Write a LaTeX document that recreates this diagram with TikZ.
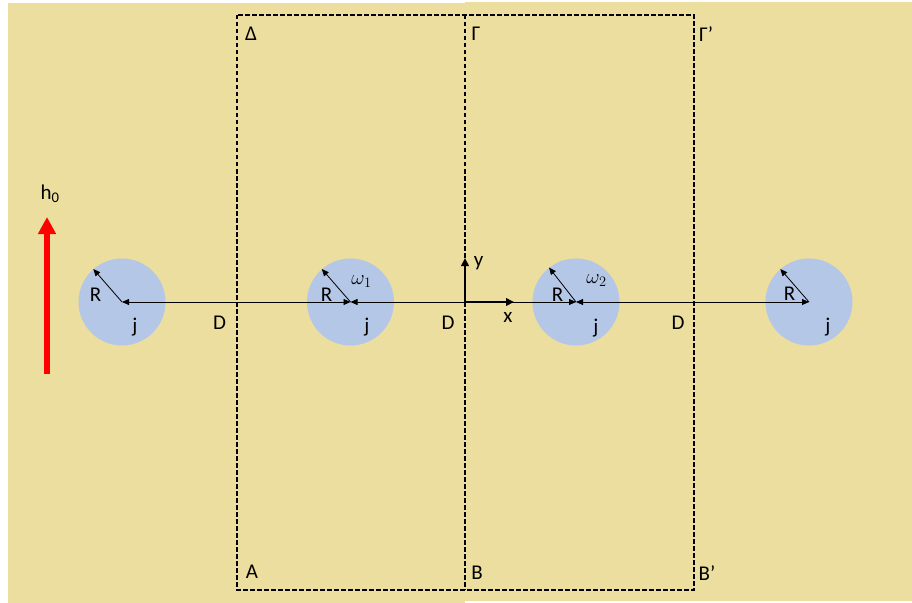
\documentclass[tikz,border=0pt]{standalone}
\usepackage{fontspec}
\setmainfont{Carlito}
\usetikzlibrary{arrows.meta}
\definecolor{bgc}{RGB}{236,222,158}
\definecolor{discc}{RGB}{180,199,231}
\begin{document}
\begin{tikzpicture}[x=1bp,y=-1bp,
  lbl/.style={font=\fontsize{21bp}{24bp}\selectfont, inner sep=0pt},
  mlbl/.style={font=\fontsize{22bp}{25bp}\selectfont, inner sep=0pt},
  disc/.style={circle, fill=discc, minimum size=87bp, inner sep=0pt},
  tip/.tip={Triangle[length=7bp,width=6bp]},
  dist/.style={tip-tip, line width=0.8bp},
  rad/.style={-tip, line width=0.8bp},
  boxline/.style={dash pattern=on 4.5bp off 2.5bp, line width=1.2bp},
  axis/.style={{Triangle[length=8bp,width=7.5bp]}-{Triangle[length=8bp,width=7.5bp]}, line width=2.8bp, line join=miter},
  field/.style={red, line width=5.5bp, -{Triangle[length=17bp,width=17bp]}}]
\useasboundingbox (0,0) rectangle (912,603);
\fill[white] (0,0) rectangle (912,603);
\fill[bgc] (8,3) rectangle (465,603);
\fill[bgc] (465,2) rectangle (912,601);
% dashed cells
\coordinate (TL) at (237,15);
\coordinate (BR) at (694,590);
\coordinate (TM) at (465,15);
\coordinate (BM) at (465,590);
\draw[boxline] (TL) rectangle (BR);
\draw[boxline] (TM) -- (BM);
% discs
\node[disc] (c1) at (122,302) {};
\node[disc] (c2) at (350.5,302) {};
\node[disc] (c3) at (576,302) {};
\node[disc] (c4) at (809,302) {};
% distances
\draw[dist] (c1.center) -- (c2.center);
\draw[dist] (c2.center) -- (c3.center);
\draw[dist] (c3.center) -- (c4.center);
% radii
\draw[rad] (c1.center) -- (c1.131);
\draw[rad] (c2.center) -- (c2.131);
\draw[rad] (c3.center) -- (c3.128);
\draw[rad] (c4.center) -- (c4.131);
% axes
\coordinate (O) at (465,302);
\coordinate (Y) at (465,258);
\coordinate (X) at (514,302);
\draw[axis] (Y) -- (O) -- (X);
% field arrow
\coordinate (H1) at (47,374);
\coordinate (H2) at (47,217);
\draw[field] (H1) -- (H2);
% labels
\node[lbl] (lh) at (50,194) {h\textsubscript{0}};
\node[lbl] (lDelta) at (251,34) {Δ};
\node[lbl] (lGamma) at (476,34) {Γ};
\node[lbl] (lGammap) at (706,34) {Γ’};
\node[lbl] (lA) at (252,572) {A};
\node[lbl] (lB) at (477,573) {B};
\node[lbl] (lBp) at (707,573) {B’};
\node[lbl] (lD1) at (219.5,322.5) {D};
\node[lbl] (lD2) at (448,322.5) {D};
\node[lbl] (lD3) at (678,322.5) {D};
\node[lbl] (lR1) at (95.5,295) {R};
\node[lbl] (lR2) at (326.5,295) {R};
\node[lbl] (lR3) at (557.5,295) {R};
\node[lbl] (lR4) at (789.5,294) {R};
\node[lbl] (lj1) at (135,327.5) {j};
\node[lbl] (lj2) at (367,327.5) {j};
\node[lbl] (lj3) at (596,328) {j};
\node[lbl] (lj4) at (828,327) {j};
\node[mlbl] (lw1) at (361.5,281.5) {$\omega_1$};
\node[mlbl] (lw2) at (596.5,281) {$\omega_2$};
\node[lbl] (ly) at (478.5,263) {y};
\node[lbl] (lx) at (508,317) {x};
\end{tikzpicture}
\end{document}
